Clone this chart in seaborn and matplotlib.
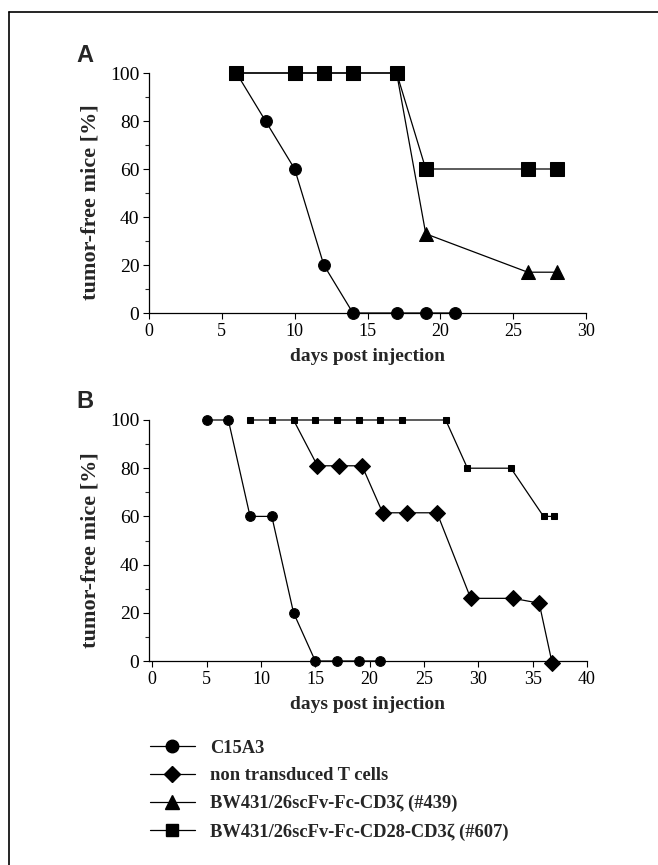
import matplotlib
matplotlib.use('Agg')
import matplotlib.pyplot as plt
import seaborn as sns
from matplotlib.lines import Line2D
from matplotlib.ticker import MultipleLocator

sns.set_style('ticks')
plt.rcParams['font.family'] = ['Liberation Serif', 'DejaVu Serif']

# Panel A data
a_c15_days = [6, 8, 10, 12, 14, 17, 19, 21]
a_c15_pct = [100, 80, 60, 20, 0, 0, 0, 0]
a_439_days = [6, 10, 12, 14, 17, 19, 26, 28]
a_439_pct = [100, 100, 100, 100, 100, 33, 17, 17]
a_607_days = [6, 10, 12, 14, 17, 19, 26, 28]
a_607_pct = [100, 100, 100, 100, 100, 60, 60, 60]

# Panel B data
b_c15_days = [5, 7, 9, 11, 13, 15, 17, 19, 21]
b_c15_pct = [100, 100, 60, 60, 20, 0, 0, 0, 0]
b_nt_days = [13, 15.2, 17.2, 19.3, 21.2, 23.4, 26.2, 29.3, 33.2, 35.6, 36.8]
b_nt_pct = [100, 81, 81, 81, 61.5, 61.5, 61.5, 26, 26, 24, -1]
b_607_days = [9, 11, 13, 15, 17, 19, 21, 23, 27, 29, 33, 36, 37]
b_607_pct = [100, 100, 100, 100, 100, 100, 100, 100, 100, 80, 80, 60, 60]

legend_labels = ['C15A3', 'non transduced T cells',
                 'BW431/26scFv-Fc-CD3\u03b6 (#439)',
                 'BW431/26scFv-Fc-CD28-CD3\u03b6 (#607)']

W, H = 658, 865
fig = plt.figure(figsize=(W / 100, H / 100), dpi=100)


def px_axes(left, top, right, bottom):
    return fig.add_axes([left / W, 1 - bottom / H, (right - left) / W, (bottom - top) / H])


def style_axes(ax):
    sns.despine(ax=ax)
    ax.set_ylim(0, 100)
    ax.yaxis.set_major_locator(MultipleLocator(20))
    ax.yaxis.set_minor_locator(MultipleLocator(10))
    ax.xaxis.set_major_locator(MultipleLocator(5))
    ax.tick_params(axis='both', which='major', direction='out', length=4, width=0.8,
                   labelsize=13, pad=3, colors='black')
    ax.tick_params(axis='y', which='major', labelsize=14)
    ax.tick_params(axis='y', which='minor', direction='out', length=3, width=0.8)
    for s in ['left', 'bottom']:
        ax.spines[s].set_linewidth(0.9)
        ax.spines[s].set_color('black')
    ax.set_xlabel('days post injection', fontsize=14, fontweight='bold', labelpad=6)
    ax.set_ylabel('tumor-free mice [%]', fontsize=16, fontweight='bold')
    ax.yaxis.set_label_coords(-0.11, 0.46)


lw = 0.9
kw = dict(color='black', linewidth=lw, markeredgecolor='black', clip_on=False)

# Panel A
axA = px_axes(149, 73, 586, 313)
sns.lineplot(x=a_c15_days, y=a_c15_pct, marker='o', markersize=8.5, ax=axA, **kw)
sns.lineplot(x=a_439_days, y=a_439_pct, marker='^', markersize=10, ax=axA, **kw)
sns.lineplot(x=a_607_days, y=a_607_pct, marker='s', markersize=9.5, ax=axA, **kw)
axA.set_xlim(0, 30)
style_axes(axA)

# Panel B
axB = px_axes(149, 420, 587, 661)
sns.lineplot(x=b_nt_days, y=b_nt_pct, marker='D', markersize=8,
             markevery=list(range(1, len(b_nt_days))), ax=axB, **kw)
sns.lineplot(x=b_607_days, y=b_607_pct, marker='s', markersize=5, ax=axB, **kw)
sns.lineplot(x=b_c15_days, y=b_c15_pct, marker='o', markersize=7, ax=axB, **kw)
axB.set_xlim(-0.3, 40)
style_axes(axB)

fig.text(76 / W, 1 - 55 / H, 'A', fontsize=17, fontweight='bold',
         family='Liberation Sans', va='center', ha='left')
fig.text(76 / W, 1 - 402 / H, 'B', fontsize=17, fontweight='bold',
         family='Liberation Sans', va='center', ha='left')

# legend
handles = [
    Line2D([], [], color='black', lw=lw, marker='o', markersize=9),
    Line2D([], [], color='black', lw=lw, marker='D', markersize=8.5),
    Line2D([], [], color='black', lw=lw, marker='^', markersize=9.5),
    Line2D([], [], color='black', lw=lw, marker='s', markersize=9),
]
leg = fig.legend(handles, legend_labels, loc='upper left',
                 bbox_to_anchor=(133 / W, 1 - 723 / H), frameon=False,
                 handlelength=2.45, handletextpad=0.8, labelspacing=0.58,
                 prop={'family': 'Liberation Serif', 'weight': 'bold', 'size': 13.3})

# outer frame (top and left edges)
fig.add_artist(Line2D([9 / W, 1], [1 - 12 / H, 1 - 12 / H], color='black', lw=1.2,
                      transform=fig.transFigure))
fig.add_artist(Line2D([9 / W, 9 / W], [0, 1 - 12 / H], color='black', lw=1.2,
                      transform=fig.transFigure))

fig.savefig('out.png', dpi=100)
